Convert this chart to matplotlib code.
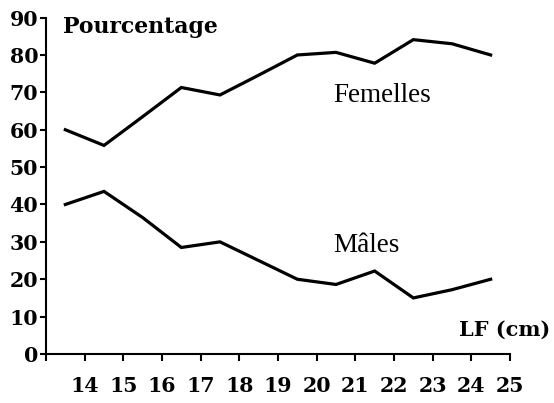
import matplotlib
matplotlib.use("Agg")
import matplotlib.pyplot as plt

# Data
lf_classes = [13.5, 14.5, 15.5, 16.5, 17.5, 18.5, 19.5, 20.5, 21.5, 22.5, 23.5, 24.5]
femelles = [60.0, 55.8, 63.5, 71.3, 69.3, 74.6, 80.0, 80.7, 77.8, 84.1, 83.0, 80.0]
males = [40.0, 43.5, 36.5, 28.5, 30.0, 25.0, 20.0, 18.6, 22.2, 15.0, 17.2, 20.0]
x_ticks = list(range(13, 26))
x_labels = [""] + [str(v) for v in range(14, 26)]
y_ticks = list(range(0, 91, 10))

fig = plt.figure(figsize=(5.54, 4.03), dpi=100)
ax = fig.add_axes([46 / 554, 1 - 354 / 403, (510 - 46) / 554, (354 - 17.6) / 403])

ax.plot(lf_classes, femelles, color="black", lw=2.3, solid_joinstyle="miter")
ax.plot(lf_classes, males, color="black", lw=2.3, solid_joinstyle="miter")

ax.set_xlim(13, 25)
ax.set_ylim(0, 90)
ax.set_xticks(x_ticks)
ax.set_xticklabels(x_labels)
ax.set_yticks(y_ticks)

for s in ["top", "right"]:
    ax.spines[s].set_visible(False)
for s in ["left", "bottom"]:
    ax.spines[s].set_linewidth(1.5)
    ax.spines[s].set_clip_on(False)

ax.tick_params(axis="x", direction="out", length=5, width=1.5, pad=11)
ax.tick_params(axis="y", direction="out", length=4, width=1.5, pad=1.5)
for lab in ax.get_xticklabels() + ax.get_yticklabels():
    lab.set_fontfamily("DejaVu Serif")
    lab.set_fontweight("bold")
    lab.set_fontsize(14.8)

fig.text(63 / 554, 1 - 27 / 403, "Pourcentage", ha="left", va="center",
         fontfamily="DejaVu Serif", fontweight="bold", fontsize=15.8)
fig.text(550 / 554, 1 - 330 / 403, "LF (cm)", ha="right", va="center",
         fontfamily="DejaVu Serif", fontweight="bold", fontsize=15)
fig.text(333 / 554, 1 - 96 / 403, "Femelles", ha="left", va="center",
         fontfamily="Liberation Serif", fontsize=19.5)
fig.text(333 / 554, 1 - 246 / 403, "Mâles", ha="left", va="center",
         fontfamily="Liberation Serif", fontsize=19.5)

fig.savefig("out.png", dpi=100)
